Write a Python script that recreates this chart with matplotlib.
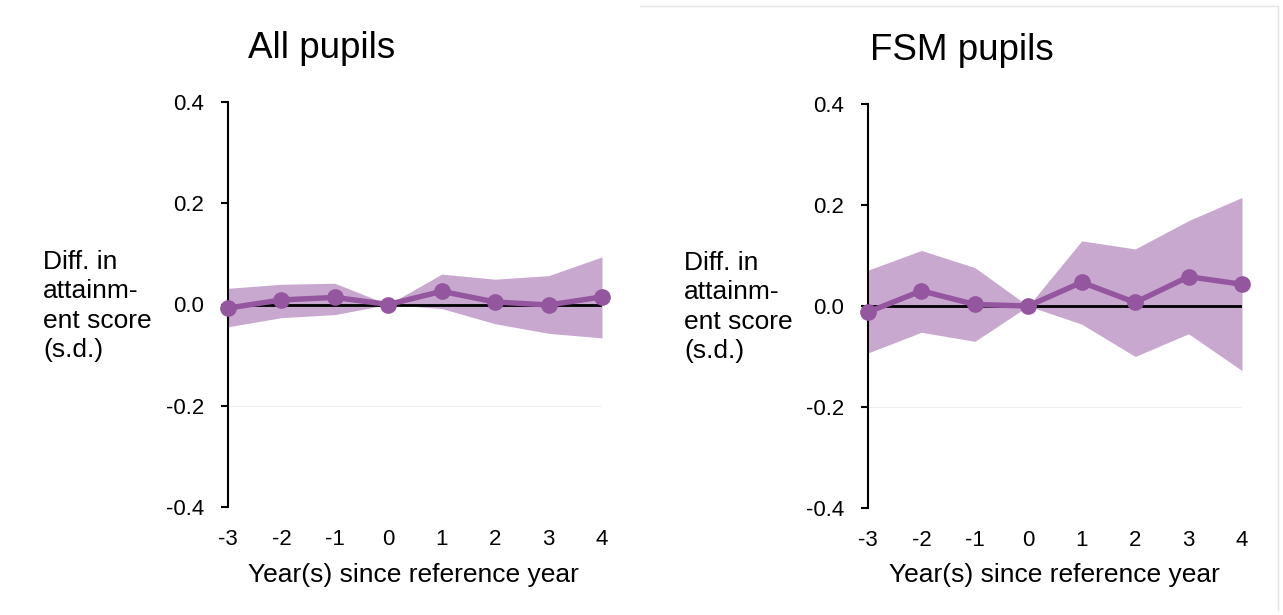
import matplotlib.pyplot as plt
from matplotlib.patches import Rectangle
from matplotlib.lines import Line2D

plt.rcParams['font.family'] = ['Liberation Sans', 'DejaVu Sans']

years = [-3, -2, -1, 0, 1, 2, 3, 4]

# all pupils: estimate with 95% interval
all_est = [-0.007, 0.009, 0.014, 0.0, 0.026, 0.005, -0.001, 0.015]
all_hi = [0.032, 0.040, 0.042, 0.0, 0.060, 0.050, 0.057, 0.094]
all_lo = [-0.044, -0.026, -0.020, 0.0, -0.008, -0.038, -0.057, -0.066]

# FSM pupils
fsm_est = [-0.012, 0.030, 0.003, 0.0, 0.047, 0.007, 0.058, 0.043]
fsm_hi = [0.071, 0.110, 0.076, 0.0, 0.129, 0.113, 0.169, 0.215]
fsm_lo = [-0.093, -0.052, -0.070, 0.0, -0.036, -0.100, -0.055, -0.128]

yticks = [-0.4, -0.2, 0.0, 0.2, 0.4]
line_col = '#94569f'
band_col = '#c9a8cf'

W, H = 1283, 615
fig = plt.figure(figsize=(W / 100, H / 100), dpi=100)


def panel(rect, est, lo, hi, title, title_xy, xlab_xy, ylab_xy):
    ax = fig.add_axes(rect)
    ax.fill_between(years, lo, hi, color=band_col, lw=0, zorder=1)
    # faint plot-area frame
    ax.add_patch(Rectangle((-3, -0.2), 7, 0.2, fill=False, edgecolor='#f0f0f0',
                           lw=0.8, zorder=0))
    ax.plot([-3, 4], [0, 0], color='black', lw=2, zorder=2)
    ax.plot(years, est, color=line_col, lw=3.9, marker='o', ms=11,
            clip_on=False, zorder=3)
    ax.set_xlim(-3, 4)
    ax.set_ylim(-0.4, 0.4)
    ax.set_xticks(years)
    ax.set_xticklabels([str(y) for y in years])
    ax.set_yticks(yticks)
    ax.set_yticklabels(['%.1f' % v for v in yticks])
    for s in ['top', 'right', 'bottom']:
        ax.spines[s].set_visible(False)
    ax.spines['left'].set_linewidth(1.5)
    ax.tick_params(axis='x', length=0, pad=16, labelsize=16)
    ax.tick_params(axis='y', length=5, width=1.5, pad=12, labelsize=16)
    fig.text(title_xy[0] / W, 1 - title_xy[1] / H, title, fontsize=26.5,
             ha='center', va='center')
    fig.text(xlab_xy[0] / W, 1 - xlab_xy[1] / H, 'Year(s) since reference year',
             fontsize=19, ha='center', va='center')
    fig.text(ylab_xy[0] / W, 1 - ylab_xy[1] / H,
             'Diff. in\nattainm-\nent score\n(s.d.)', fontsize=19,
             ha='left', va='center', multialignment='left', linespacing=1.28)
    return ax


panel([228 / W, 1 - 507 / H, 374 / W, 405 / H], all_est, all_lo, all_hi,
      'All pupils', (322, 48), (413, 575), (43, 306))
panel([868 / W, 1 - 508 / H, 374 / W, 404 / H], fsm_est, fsm_lo, fsm_hi,
      'FSM pupils', (962, 50), (1054, 575), (684, 307))

# light border around the right-hand panel
fig.add_artist(Line2D([640 / W, 1278 / W], [1 - 6 / H, 1 - 6 / H],
                      color='#e4e4e4', lw=1))
fig.add_artist(Line2D([1278 / W, 1278 / W], [1 - 6 / H, 1 - 610 / H],
                      color='#e4e4e4', lw=1))

fig.savefig('out.png', dpi=100)
